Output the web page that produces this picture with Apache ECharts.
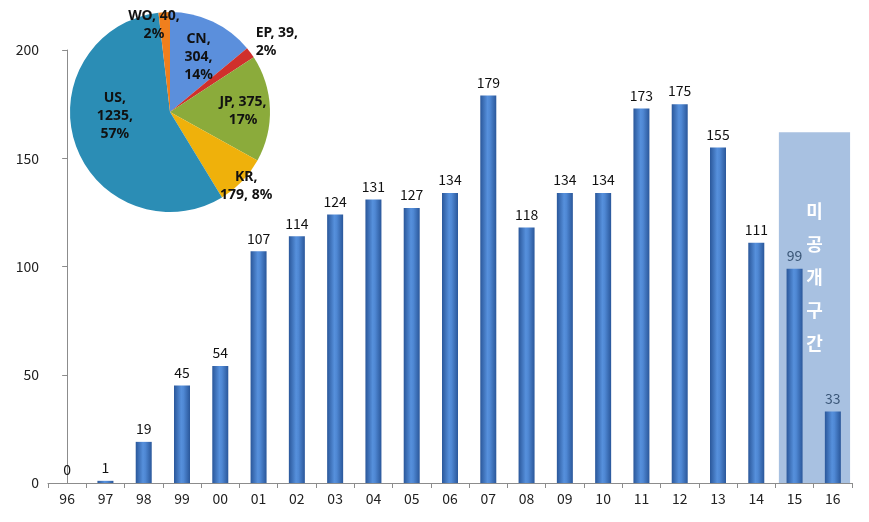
<!DOCTYPE html>
<html>
<head>
<meta charset="utf-8">
<script src="https://cdn.jsdelivr.net/npm/echarts@6/dist/echarts.min.js"></script>
<style>
html,body{margin:0;padding:0;background:#fff;}
#chart{width:869px;height:522px;}
</style>
</head>
<body>
<div id="chart"></div>
<script>
// ---- data ----
var years = ['96','97','98','99','00','01','02','03','04','05','06','07','08','09','10','11','12','13','14','15','16'];
var counts = [0,1,19,45,54,107,114,124,131,127,134,179,118,134,134,173,175,155,111,99,33];
var yTicks = [0,50,100,150,200];
var undisclosedYears = ['15','16'];
var undisclosedLabel = '미공개구간';
var undisclosedTop = 162;

var pieNames = ['CN','EP','JP','KR','US','WO'];
var pieValues = [304,39,375,179,1235,40];
var piePercents = [14,2,17,8,57,2];
var pieLabelTexts = ['CN,\n304,\n14%','EP, 39,\n2%','JP, 375,\n17%','KR,\n179, 8%','US,\n1235,\n57%','WO, 40,\n2%'];

// ---- styles ----
var pieColors = ['#5b8fdc','#d0302c','#8bab3b','#efb10b','#2b8db5','#f07f1d'];
var pieLabelShift = [[6,-7],[0,0],[20,1],[38,37],[-5,-13],[-13,-34]];

var barGradient = new echarts.graphic.LinearGradient(0,0,1,0,[
  {offset:0,color:'#2a579a'},
  {offset:0.45,color:'#5690dc'},
  {offset:0.6,color:'#4f88d4'},
  {offset:1,color:'#2a579a'}
]);

var barData = counts.map(function(v,i){
  var item = {value:v};
  if (undisclosedYears.indexOf(years[i]) >= 0) {
    item.label = {color:'#3a5677'};
  }
  return item;
});

var startIdx = years.indexOf(undisclosedYears[0]);
var endIdx = years.indexOf(undisclosedYears[undisclosedYears.length-1]);

var pieData = pieNames.map(function(n,i){
  var d = {name:n, value:pieValues[i], itemStyle:{color:pieColors[i]}};
  d.label = {formatter: pieLabelTexts[i]};
  return d;
});

var chart = echarts.init(document.getElementById('chart'));
chart.setOption({
  animation:false,
  backgroundColor:'#ffffff',
  grid:{left:48,right:17,top:50,bottom:39},
  xAxis:[{
    type:'category',
    data:years,
    axisLine:{lineStyle:{color:'#8c8c8c'}},
    axisTick:{show:true,length:5,lineStyle:{color:'#8c8c8c'}},
    axisLabel:{color:'#222',fontSize:14,margin:9,fontFamily:'Noto Sans CJK KR, sans-serif'}
  },{
    type:'value',
    min:-0.5,max:years.length-0.5,
    show:false
  }],
  yAxis:{
    type:'value',
    min:yTicks[0],max:yTicks[yTicks.length-1],interval:yTicks[1]-yTicks[0],
    axisLine:{show:true,lineStyle:{color:'#8c8c8c'}},
    axisTick:{show:true,length:5,lineStyle:{color:'#8c8c8c'}},
    splitLine:{show:false},
    axisLabel:{color:'#222',fontSize:14,margin:9,fontFamily:'Noto Sans CJK KR, sans-serif'}
  },
  series:[{
    type:'line',
    xAxisIndex:1,
    data:[],
    z:1,
    silent:true,
    markArea:{
      silent:true,
      itemStyle:{color:'#a8c1e1'},
      label:{
        show:true,
        position:'inside',
        offset:[0,-30],
        color:'#ffffff',
        fontSize:18,
        fontWeight:'bold',
        lineHeight:33,
        fontFamily:'Noto Sans CJK KR, sans-serif',
        formatter: undisclosedLabel.split('').join('\n')
      },
      data:[[{xAxis:startIdx-0.41,yAxis:0},{xAxis:endIdx+0.45,yAxis:undisclosedTop}]]
    }
  },{
    type:'bar',
    z:3,
    data:barData,
    barWidth:16,
    itemStyle:{color:barGradient},
    label:{show:true,position:'top',distance:6,color:'#111',fontSize:14,fontFamily:'Noto Sans CJK KR, sans-serif'}
  },{
    type:'pie',
    z:5,
    center:[170,112],
    radius:[0,100],
    startAngle:90,
    clockwise:true,
    data:pieData,
    label:{
      show:true,
      position:'inside',
      color:'#111',
      fontSize:14,
      fontWeight:'bold',
      lineHeight:18,
      fontFamily:'Noto Sans, sans-serif'
    },
    labelLine:{show:false},
    labelLayout:function(p){
      var s = pieLabelShift[p.dataIndex];
      if (p.dataIndex === 1) {
        return {x: p.rect.x + p.rect.width + 2, y: p.rect.y - 24, align:'left', verticalAlign:'top'};
      }
      return {dx:s[0], dy:s[1]};
    },
    emphasis:{disabled:true}
  }]
});
</script>
</body>
</html>
